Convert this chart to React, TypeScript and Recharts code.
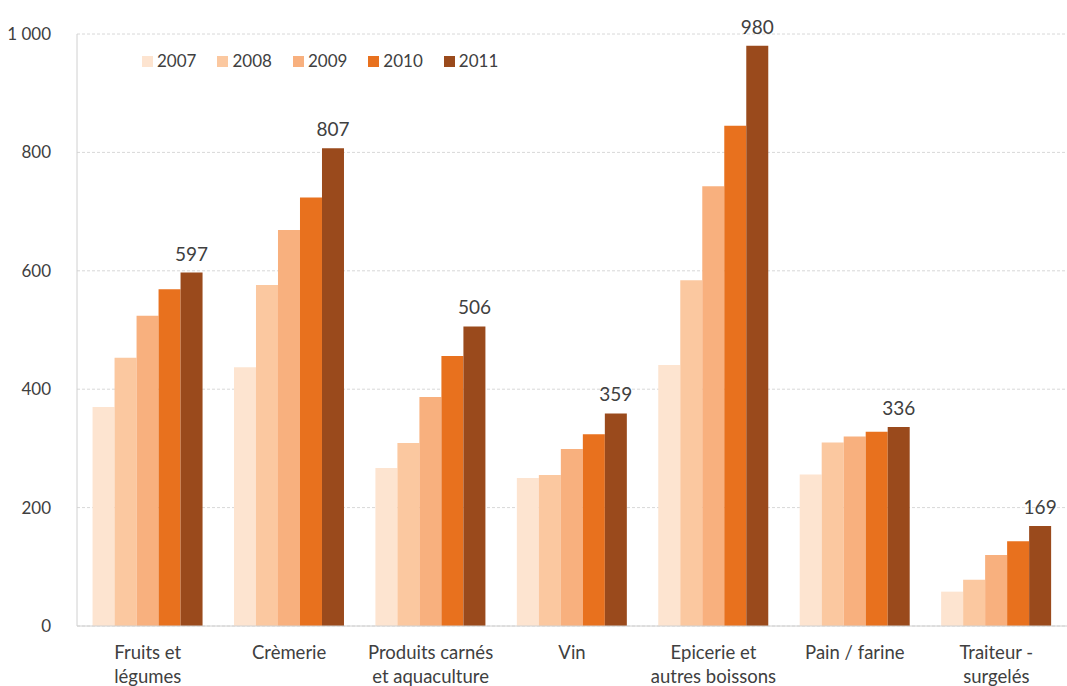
import React from "react";
import { BarChart, Bar, XAxis, YAxis, CartesianGrid, Legend, LabelList } from "recharts";

const categories = [
  "Fruits et\nlégumes",
  "Crèmerie",
  "Produits carnés\net aquaculture",
  "Vin",
  "Epicerie et\nautres boissons",
  "Pain / farine",
  "Traiteur -\nsurgelés",
];
const years = ["2007", "2008", "2009", "2010", "2011"];
const v2007 = [370, 437, 267, 250, 441, 256, 58];
const v2008 = [453, 576, 309, 255, 584, 310, 78];
const v2009 = [524, 669, 387, 299, 743, 320, 120];
const v2010 = [569, 724, 456, 324, 845, 328, 143];
const v2011 = [597, 807, 506, 359, 980, 336, 169];
const colors = ["#fde4d0", "#fbc8a0", "#f8b07e", "#e8711e", "#9a4a1c"];
const yTicks = [0, 200, 400, 600, 800, 1000];

const seriesValues = [v2007, v2008, v2009, v2010, v2011];
const data = categories.map((c, i) => {
  const row: Record<string, any> = { name: c };
  years.forEach((y, k) => (row[y] = seriesValues[k][i]));
  return row;
});

const FONT = "Lato, 'Open Sans', sans-serif";
const TEXT = "#404040";

const XTick = (props: any) => {
  const { x, y, payload } = props;
  const lines = String(payload.value).split("\n");
  return (
    <g transform={`translate(${x},${y})`}>
      <text textAnchor="middle" fill={TEXT} fontSize={18.5} fontFamily={FONT}>
        {lines.map((l, i) => (
          <tspan key={i} x={0} dy={i === 0 ? 25 : 24}>
            {l}
          </tspan>
        ))}
      </text>
    </g>
  );
};

const fmt = (v: number) => (v >= 1000 ? `${Math.floor(v / 1000)} ${String(v % 1000).padStart(3, "0")}` : String(v));

const LegendContent = () => (
  <div style={{ display: "flex", fontFamily: FONT, fontSize: 17, color: TEXT, lineHeight: "20px" }}>
    {years.map((y, i) => (
      <div key={y} style={{ display: "flex", alignItems: "center", marginRight: 21 }}>
        <span style={{ width: 11, height: 11, background: colors[i], display: "inline-block", marginRight: 4 }} />
        <span>{y}</span>
      </div>
    ))}
  </div>
);

export default function App() {
  return (
    <div style={{ position: "absolute", left: 0, top: 0, width: 1067, height: 686, background: "#fff" }}>
      <BarChart
        width={1067}
        height={686}
        data={data}
        margin={{ top: 34, right: 0, bottom: 0, left: 0 }}
        barCategoryGap="11%"
        barGap={0}
      >
        <CartesianGrid vertical={false} stroke="#d8d8d8" strokeDasharray="3 2" />
        <XAxis
          dataKey="name"
          height={60}
          axisLine={{ stroke: "#d0d0d0" }}
          tickLine={false}
          tick={<XTick />}
          interval={0}
        />
        <YAxis
          width={77}
          domain={[0, 1000]}
          ticks={yTicks}
          tickFormatter={fmt}
          axisLine={{ stroke: "#d0d0d0" }}
          tickLine={false}
          tickMargin={20}
          tick={{ fill: TEXT, fontSize: 17, fontFamily: FONT }}
        />
        <Legend
          verticalAlign="middle"
          align="center"
          content={<LegendContent />}
          wrapperStyle={{ top: 51, left: 142, width: "auto" }}
        />
        {years.map((y, i) => (
          <Bar key={y} dataKey={y} fill={colors[i]} isAnimationActive={false}>
            {i === years.length - 1 ? (
              <LabelList dataKey={y} position="top" offset={12} fill={TEXT} fontSize={19} fontFamily={FONT} />
            ) : null}
          </Bar>
        ))}
      </BarChart>
    </div>
  );
}
